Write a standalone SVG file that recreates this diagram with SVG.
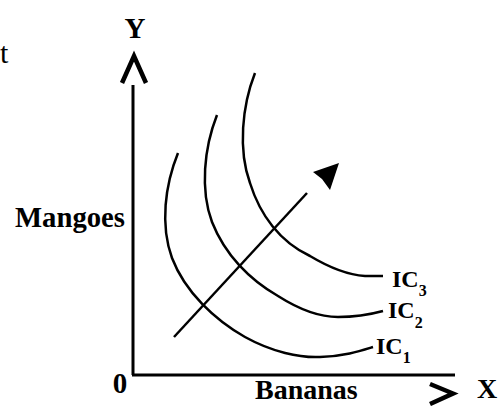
<svg xmlns="http://www.w3.org/2000/svg" width="502" height="406" viewBox="0 0 502 406">
<style>
.lbl{font-family:"Liberation Serif","DejaVu Serif",serif;font-weight:bold;fill:#000}
.ic{font-size:24px}
.sub{font-size:16px}
.ax{stroke:#000;stroke-width:3;fill:none}
.cv{stroke:#000;stroke-width:2.5;fill:none}
.head{stroke:#000;stroke-width:4.5;fill:none;stroke-linejoin:miter}
</style>
<rect width="502" height="406" fill="#fff"/>
<text x="0" y="63" font-family="Liberation Serif, DejaVu Serif, serif" font-size="30">t</text>
<g id="axes">
  <line class="ax" x1="133" y1="85" x2="133" y2="375"/>
  <line class="ax" x1="132" y1="375" x2="455" y2="375"/>
  <polyline class="head" points="122,83 134,56 146,83"/>
  <polyline class="head" points="430,384 453,393.5 430,404"/>
  <text class="lbl" x="135" y="38" font-size="29" text-anchor="middle">Y</text>
  <text class="lbl" x="487" y="398" font-size="28" text-anchor="middle">X</text>
  <text class="lbl" x="120" y="393" font-size="29" text-anchor="middle">0</text>
  <text class="lbl" x="15" y="227" font-size="28.7">Mangoes</text>
  <text class="lbl" x="255" y="399" font-size="28">Bananas</text>
</g>
<g id="IC1">
  <path class="cv" d="M178,153 C165,185 160,225 172,258 C185,292 215,320 245,337 C272,352 300,358 320,357 C345,356 360,351 373,347"/>
  <text class="lbl ic" x="376" y="354">IC<tspan class="sub" dy="9">1</tspan></text>
</g>
<g id="IC2">
  <path class="cv" d="M217,115 C204,148 200,190 212,222 C225,255 250,280 278,296 C300,310 320,317 338,317 C358,317 372,314 383,311"/>
  <text class="lbl ic" x="388" y="318">IC<tspan class="sub" dy="10">2</tspan></text>
</g>
<g id="IC3">
  <path class="cv" d="M255,73 C242,106 238,150 250,183 C260,215 280,242 310,256 C330,268 350,275 365,276 C372,276 378,276 383,276"/>
  <text class="lbl ic" x="392" y="287">IC<tspan class="sub" dy="9">3</tspan></text>
</g>
<g id="connectors">
  <line class="cv" x1="174" y1="337" x2="307" y2="193"/>
  <polygon points="339,163 313,172 322,179 330,190" fill="#000"/>
</g>
</svg>
